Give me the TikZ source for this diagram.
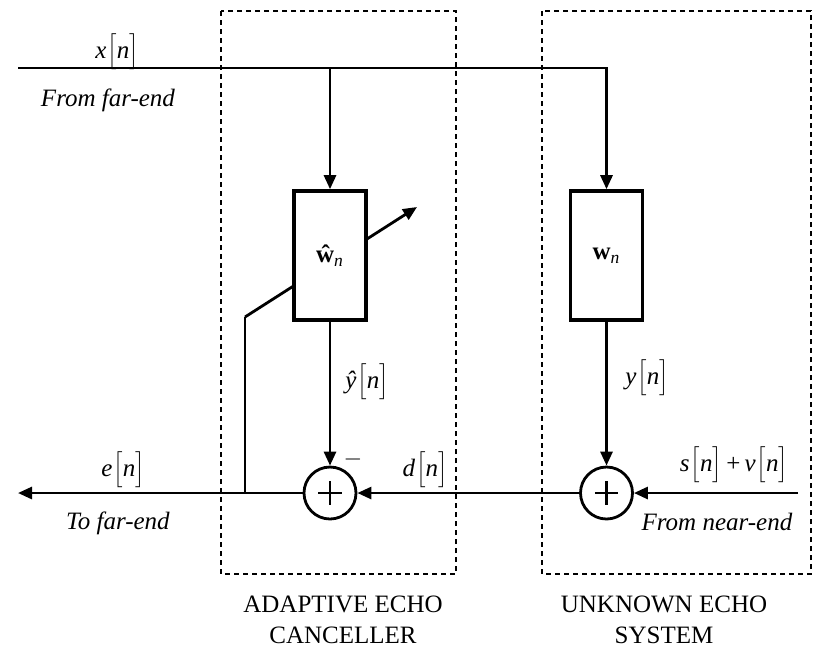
\documentclass[tikz,border=0pt]{standalone}
\usepackage{fontspec}
\setmainfont{Liberation Serif}
\usetikzlibrary{arrows.meta}
\newcommand{\sgl}[1]{\textit{#1}\kern.5pt$\Bigl[$\textit{n}$\Bigr]$}

\begin{document}
\begin{tikzpicture}[
  x=.5pt, y=-.5pt,
  font=\fontsize{12.5}{15.5}\selectfont,
  signal/.style={line width=1.4pt},
  flow/.style={signal, -{Triangle[length=7pt,width=6pt]}},
  filter/.style={draw, line width=1.8pt, fill=white, minimum width=36pt,
    minimum height=64.5pt, inner sep=0pt},
  adder/.style={draw, circle, line width=1.4pt, minimum size=26pt, inner sep=0pt,
    path picture={\draw[line width=1.4pt]
      ([xshift=-5.8pt]path picture bounding box.center) -- ++(11.6pt,0)
      ([yshift=-5.8pt]path picture bounding box.center) -- ++(0,11.6pt);}},
  block/.style={draw, dashed, dash pattern=on 2.5pt off 2pt, line width=.7pt},
  tag/.style={inner sep=1pt},
  title/.style={align=center, font=\fontsize{12.5}{15.5}\selectfont}
]
\useasboundingbox (0,0) rectangle (817,650);

% enclosures
\draw[block] (221,11) rectangle (456,574);
\draw[block] (542,11) rectangle (811,574);
\node[title] (canceller) at (343,620) {ADAPTIVE ECHO\\CANCELLER};
\node[title] (system) at (664,620) {UNKNOWN ECHO\\SYSTEM};

% adaptation path is drawn first so the filter box hides it
\coordinate (fb) at (245,493);
\coordinate (knee) at (245,317);
\coordinate (tune) at (417,207);
\draw[signal] (fb) -- (knee);
\draw[flow] (knee) -- (tune);

\node[filter] (westimate) at (330,255.5) {\textbf{\^{w}}\textsubscript{\textit{n}}};
\node[filter] (wtrue) at (606.5,255.5) {\textbf{w}\textsubscript{\textit{n}}};
\node[adder] (sumest) at (330,493) {};
\node[adder] (sumtrue) at (606.5,493) {};

\coordinate (farin) at (18,68);
\coordinate (tap) at (330,68);
\coordinate (nearin) at (798,493);
\coordinate (farout) at (18,493);

\draw[signal] (farin) -- (tap);
\draw[flow] (tap) -| (wtrue.north);
\draw[flow] (tap) -- (westimate.north);
\draw[flow] (westimate.south) -- (sumest.north);
\draw[flow] (wtrue.south) -- (sumtrue.north);
\draw[flow] (nearin) -- (sumtrue.east);
\draw[flow] (sumtrue.west) -- (sumest.east);
\draw[flow] (sumest.west) -- (farout);

\node[tag] (xlab) at (117,52) {\sgl{x}};
\node[tag] (farlab) at (108,100) {\textit{From far-end}};
\node[tag] (elab) at (123,470) {\sgl{e}};
\node[tag] (tofar) at (118,523) {\textit{To far-end}};
\node[tag] (yhat) at (367,382) {\sgl{\^{y}}};
\node[tag] (ylab) at (647,378) {\sgl{y}};
\node[tag] (dlab) at (425,470) {\sgl{d}};
\node[tag] (minus) at (353,459) {$-$};
\node[tag] (svlab) at (734,465) {\sgl{s}\,+\,\sgl{v}};
\node[tag] (nearlab) at (717,522) {\textit{From near-end}};
\end{tikzpicture}
\end{document}
